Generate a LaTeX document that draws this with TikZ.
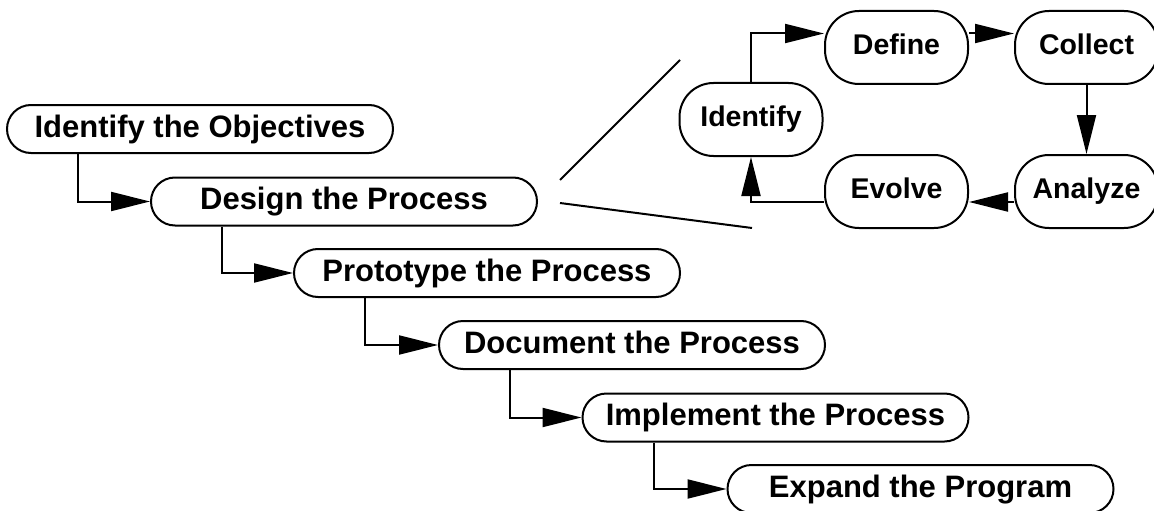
\documentclass[tikz,border=0pt]{standalone}
\usepackage{fontspec}
\setmainfont{Liberation Sans}
\usetikzlibrary{arrows.meta}

\tikzset{
  stage/.style={draw, line width=2pt, rounded corners=24pt, minimum width=386pt,
    minimum height=48pt, inner sep=0pt, text height=22pt, text depth=6pt,
    font=\fontsize{31}{31}\selectfont\bfseries},
  phase/.style={draw, line width=2pt, rounded corners=34pt, minimum width=143pt,
    minimum height=73pt, inner sep=0pt, text height=20pt, text depth=6pt,
    font=\fontsize{28.5}{28.5}\selectfont\bfseries},
  flow/.style={line width=2pt, -{Triangle[length=39pt,width=19pt]}}
}

\begin{document}
\begin{tikzpicture}[x=1pt,y=-1pt]
\useasboundingbox (0,0) rectangle (1154,511);
% main sequence
\node[stage] (objectives) at (200,129) {Identify the Objectives};
\node[stage] (design) at (344,201.5) {Design the Process};
\node[stage] (prototype) at (487,273) {Prototype the Process};
\node[stage] (document) at (632,345) {Document the Process};
\node[stage] (implement) at (775.5,417.5) {Implement the Process};
\node[stage] (expand) at (920.5,489) {Expand the Program};
\draw[flow] ([xshift=72pt]objectives.south west) |- (design.west);
\draw[flow] ([xshift=72pt]design.south west) |- (prototype.west);
\draw[flow] ([xshift=72pt]prototype.south west) |- (document.west);
\draw[flow] ([xshift=72pt]document.south west) |- (implement.west);
\draw[flow] ([xshift=72pt]implement.south west) |- (expand.west);
% cycle
\node[phase] (identify) at (751,119.5) {Identify};
\node[phase] (define) at (896.5,47.5) {Define};
\node[phase] (collect) at (1086.5,47.5) {Collect};
\node[phase] (analyze) at (1086.5,191.5) {Analyze};
\node[phase] (evolve) at (896.5,191.5) {Evolve};
\draw[flow] (identify.north) |- ([yshift=14pt]define.west);
\draw[flow] ([yshift=14pt]define.east) -- ([yshift=14pt]collect.west);
\draw[flow] (collect.south) -- (analyze.north);
\draw[flow] ([yshift=-10.5pt]analyze.west) -- ([yshift=-10.5pt]evolve.east);
\draw[flow] ([yshift=-10.5pt]evolve.west) -| (identify.south);
% zoom lines
\coordinate (zoomA) at (560,180);
\coordinate (zoomB) at (680,60);
\coordinate (zoomC) at (560,203);
\coordinate (zoomD) at (752,228);
\draw[line width=2pt] (zoomA) -- (zoomB);
\draw[line width=2pt] (zoomC) -- (zoomD);
\end{tikzpicture}
\end{document}
